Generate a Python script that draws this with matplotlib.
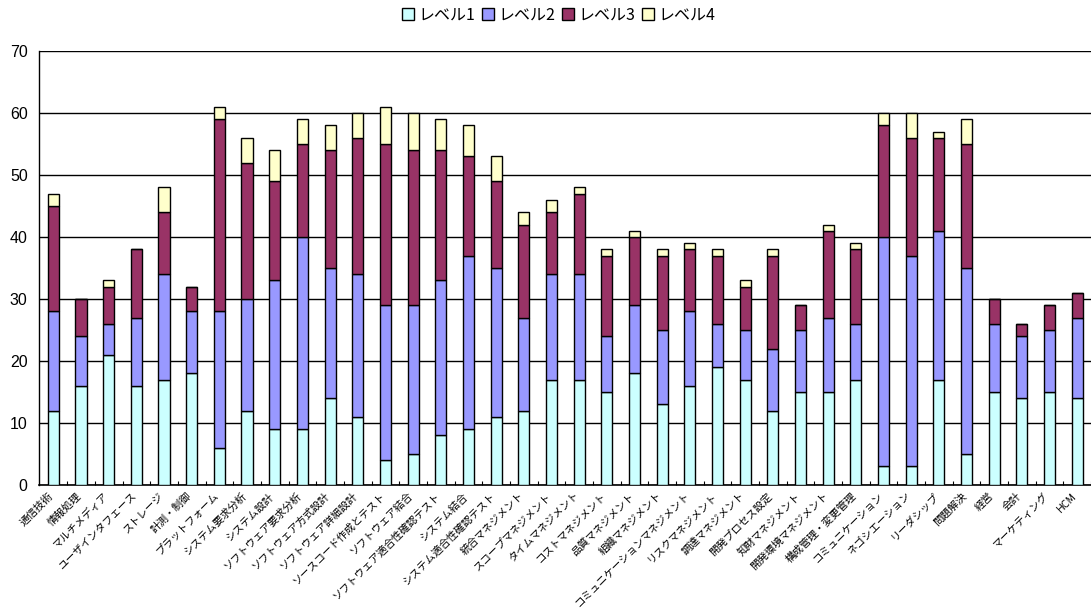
import matplotlib
matplotlib.use("Agg")
import matplotlib.pyplot as plt
import matplotlib.transforms as mtransforms
import numpy as np
from matplotlib.patches import Patch

plt.rcParams['font.family'] = ['Noto Sans CJK JP', 'DejaVu Sans']

categories = [
    "通信技術", "情報処理", "マルチメディア", "ユーザインタフェース", "ストレージ",
    "計測・制御", "プラットフォーム", "システム要求分析", "システム設計",
    "ソフトウェア要求分析", "ソフトウェア方式設計", "ソフトウェア詳細設計",
    "ソースコード作成とテスト", "ソフトウェア結合", "ソフトウェア適合性確認テスト",
    "システム結合", "システム適合性確認テスト", "統合マネジメント",
    "スコープマネジメント", "タイムマネジメント", "コストマネジメント",
    "品質マネジメント", "組織マネジメント", "コミュニケーションマネジメント",
    "リスクマネジメント", "調達マネジメント", "開発プロセス設定",
    "知財マネジメント", "開発環境マネジメント", "構成管理・変更管理",
    "コミュニケーション", "ネゴシエーション", "リーダシップ", "問題解決",
    "経営", "会計", "マーケティング", "HCM",
]

level1 = [12, 16, 21, 16, 17, 18, 6, 12, 9, 9, 14, 11, 4, 5, 8, 9, 11, 12, 17,
          17, 15, 18, 13, 16, 19, 17, 12, 15, 15, 17, 3, 3, 17, 5, 15, 14, 15, 14]
level2 = [16, 8, 5, 11, 17, 10, 22, 18, 24, 31, 21, 23, 25, 24, 25, 28, 24, 15, 17,
          17, 9, 11, 12, 12, 7, 8, 10, 10, 12, 9, 37, 34, 24, 30, 11, 10, 10, 13]
level3 = [17, 6, 6, 11, 10, 4, 31, 22, 16, 15, 19, 22, 26, 25, 21, 16, 14, 15, 10,
          13, 13, 11, 12, 10, 11, 7, 15, 4, 14, 12, 18, 19, 15, 20, 4, 2, 4, 4]
level4 = [2, 0, 1, 0, 4, 0, 2, 4, 5, 4, 4, 4, 6, 6, 5, 5, 4, 2, 2,
          1, 1, 1, 1, 1, 1, 1, 1, 0, 1, 1, 2, 4, 1, 4, 0, 0, 0, 0]

series_names = ["レベル1", "レベル2", "レベル3", "レベル4"]
series_colors = ["#CCFFFF", "#9999FF", "#993366", "#FFFFCC"]
y_ticks = [0, 10, 20, 30, 40, 50, 60, 70]

fig = plt.figure(figsize=(10.91, 6.14), dpi=100)
ax = fig.add_axes([0.0362, 0.2101, 1.0 - 0.0362, 0.9169 - 0.2101])

x = np.arange(len(categories))
bottom = np.zeros(len(categories))
for vals, name, color in zip([level1, level2, level3, level4], series_names, series_colors):
    vals = np.asarray(vals, dtype=float)
    ax.bar(x, vals, width=0.4, bottom=bottom, color=color, edgecolor="black",
           linewidth=1.0, label=name, zorder=3)
    bottom += vals

ax.set_xlim(-0.5, 37.25)
ax.set_ylim(0, 70)
ax.set_yticks(y_ticks)
ax.set_yticklabels([str(v) for v in y_ticks], family="Liberation Sans", fontsize=11.5)
ax.yaxis.grid(True, color="black", linewidth=1.0, zorder=0)
ax.tick_params(axis="y", length=0, pad=8.5)

ax.set_xticks(x)
ax.set_xticklabels(categories, rotation=45, ha="right", va="top",
                   rotation_mode="anchor", fontsize=7.6)
ax.tick_params(axis="x", length=0, pad=4)
shift = mtransforms.ScaledTranslation(-4 / 72, 0, fig.dpi_scale_trans)
for lbl in ax.get_xticklabels():
    lbl.set_transform(lbl.get_transform() + shift)
ax.set_xticks(np.arange(len(categories)) + 0.5, minor=True)
ax.tick_params(axis="x", which="minor", direction="in", length=3, width=0.8)

for side in ["top", "right"]:
    ax.spines[side].set_visible(False)
ax.spines["left"].set_linewidth(1.0)
ax.spines["bottom"].set_linewidth(1.2)

handles = [Patch(facecolor=c, edgecolor="black", linewidth=1.0) for c in series_colors]
fig.legend(handles, series_names, loc="center", bbox_to_anchor=(0.512, 0.975), ncol=4,
           frameon=False, handlelength=0.75, handleheight=0.75,
           handletextpad=0.25, columnspacing=0.45,
           prop={"family": ["Noto Sans CJK JP", "DejaVu Sans"], "size": 11.5})

fig.savefig("out.png", dpi=100)
